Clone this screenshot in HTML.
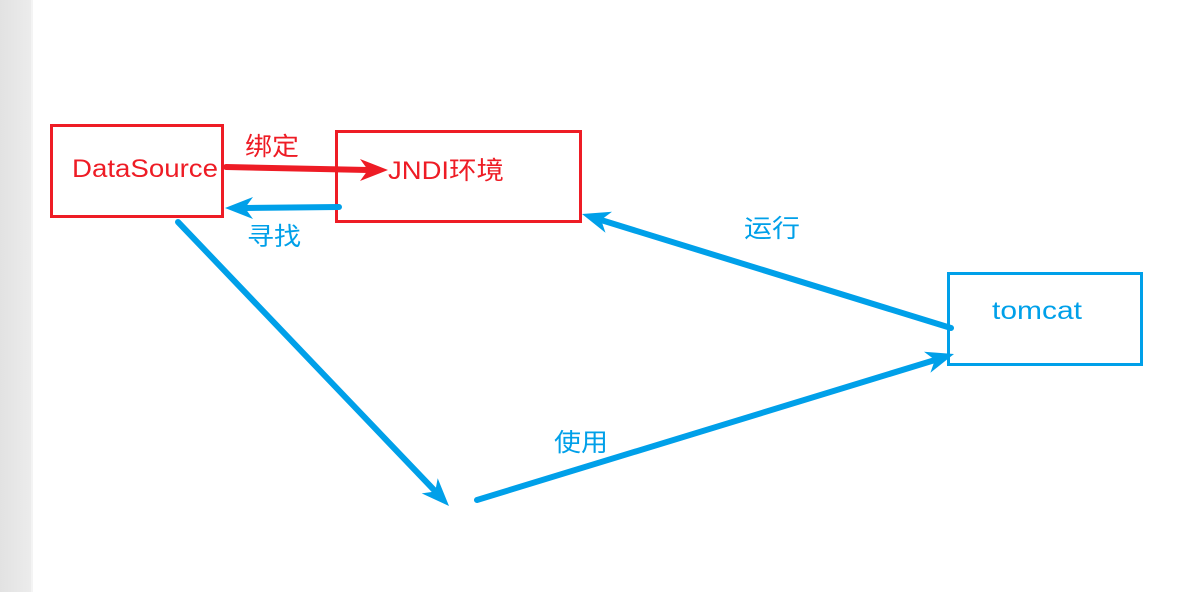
<!DOCTYPE html>
<html><head><meta charset="utf-8"><style>
html,body{margin:0;padding:0;width:1197px;height:592px;overflow:hidden;background:#fff}
svg{display:block}
text{font-family:"Liberation Sans","Noto Sans CJK SC",sans-serif}
</style></head><body>
<svg width="1197" height="592" viewBox="0 0 1197 592">
<defs>
<linearGradient id="g" x1="0" x2="1"><stop offset="0" stop-color="#e2e2e2"/><stop offset="1" stop-color="#ececec"/></linearGradient>
</defs>
<rect x="0" y="0" width="31" height="592" fill="url(#g)"/>
<rect x="31" y="0" width="2" height="592" fill="#f4f4f4"/>
<!-- boxes -->
<rect x="51.5" y="125.5" width="171" height="91" fill="none" stroke="#ee1c25" stroke-width="3"/>
<rect x="336.5" y="131.5" width="244" height="90" fill="none" stroke="#ee1c25" stroke-width="3"/>
<rect x="948.5" y="273.5" width="193" height="91" fill="none" stroke="#00a0e9" stroke-width="3"/>
<!-- texts -->
<text x="72" y="177" font-size="25" fill="#ee1c25" textLength="146" lengthAdjust="spacingAndGlyphs">DataSource</text>
<text x="245" y="155" font-size="25" fill="#ee1c25" textLength="54" lengthAdjust="spacingAndGlyphs">绑定</text>
<text x="388" y="179" font-size="25" fill="#ee1c25" textLength="116" lengthAdjust="spacingAndGlyphs">JNDI环境</text>
<text x="247" y="245" font-size="25" fill="#00a0e9" textLength="54" lengthAdjust="spacingAndGlyphs">寻找</text>
<text x="744" y="237" font-size="25" fill="#00a0e9" textLength="56" lengthAdjust="spacingAndGlyphs">运行</text>
<text x="992" y="319" font-size="25" fill="#00a0e9" textLength="90" lengthAdjust="spacingAndGlyphs">tomcat</text>
<text x="554" y="451" font-size="25" fill="#00a0e9" textLength="54" lengthAdjust="spacingAndGlyphs">使用</text>
<!-- arrows -->
<g stroke-linecap="round" fill="none" stroke-width="6">
<line x1="226" y1="167" x2="368" y2="170" stroke="#ee1c25"/>
<line x1="339" y1="207" x2="246" y2="208" stroke="#00a0e9"/>
<line x1="178" y1="222" x2="435" y2="491" stroke="#00a0e9" stroke-width="6"/>
<line x1="477" y1="500" x2="935" y2="360" stroke="#00a0e9"/>
<line x1="951" y1="328" x2="601" y2="220" stroke="#00a0e9"/>
</g>
<polygon points="388,170 360,181 368,170 360,159" fill="#ee1c25"/>
<polygon points="225,208 253,197 245,208 253,219" fill="#00a0e9"/>
<polygon points="449,506 421.7,493.4 435.2,491.5 437.7,478.2" fill="#00a0e9"/>
<polygon points="954,354 930.4,372.7 934.9,359.9 924,351.7" fill="#00a0e9"/>
<polygon points="582,214 612,211.8 601.1,219.9 605.5,232.8" fill="#00a0e9"/>
</svg>
</body></html>
